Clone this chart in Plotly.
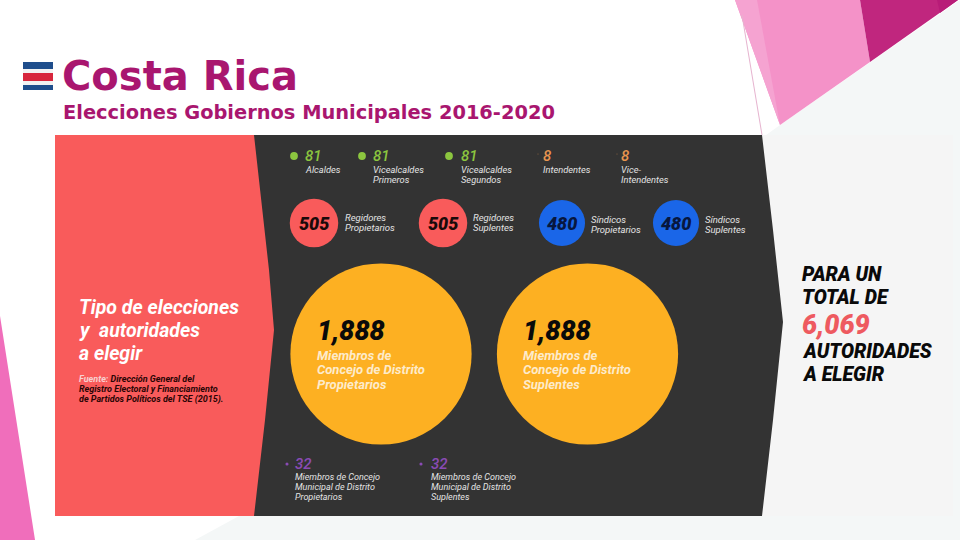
import plotly.graph_objects as go

top_values = [81, 81, 81, 8, 8]
top_labels = [["Alcaldes"], ["Vicealcaldes", "Primeros"], ["Vicealcaldes", "Segundos"],
              ["Intendentes"], ["Vice-", "Intendentes"]]
mid_values = [505, 505, 480, 480]
mid_labels = [["Regidores", "Propietarios"], ["Regidores", "Suplentes"],
              ["Síndicos", "Propietarios"], ["Síndicos", "Suplentes"]]
big_values = [1888, 1888]
big_labels = [["Miembros de", "Concejo de Distrito", "Propietarios"],
              ["Miembros de", "Concejo de Distrito", "Suplentes"]]
low_values = [32, 32]
low_labels = [["Miembros de Concejo", "Municipal de Distrito", "Propietarios"],
              ["Miembros de Concejo", "Municipal de Distrito", "Suplentes"]]
heading_lines = ["Tipo de elecciones", "y  autoridades", "a elegir"]
source_lines = ['<span style="color:#F7D0D0">Fuente:</span> Dirección General del',
                "Registro Electoral y Financiamiento",
                "de Partidos Políticos del TSE (2015)."]
total_lines = ["PARA UN", "TOTAL DE", "6,069", "AUTORIDADES", "A ELEGIR"]

# layout of the page, in pixels
SCALE = 0.096  # bubble diameter per authority
top_x = [294, 362, 449, 538, 617]
top_y = [156, 156, 156, 154, 154]
top_colors = ["#8CC63F", "#8CC63F", "#8CC63F", "#E8954F", "#E8954F"]
top_text_x = [303, 371, 459, 541, 619]
mid_x = [314, 443, 562, 676]
mid_colors = ["#F95B5B", "#F95B5B", "#1A66E8", "#1A66E8"]
mid_num_colors = ["#1A0A0A", "#1A0A0A", "#07173F", "#07173F"]
mid_text_x = [343, 471, 589, 703]
mid_text_y = [217, 217, 219, 219]
big_x = [381, 587.5]
big_text_x = [315, 521]
low_x = [287, 421]
low_text_x = [293, 429]
total_y = [274, 297, 325, 351, 374]
total_size = [19.5, 19.5, 27, 19.5, 19.5]
total_colors = ["#0A0A0A", "#0A0A0A", "#EE5A60", "#0A0A0A", "#0A0A0A"]

ITALIC = "Roboto"


def poly(points, color):
    path = "M " + " L ".join(f"{x},{y}" for x, y in points) + " Z"
    return dict(type="path", path=path, fillcolor=color, line_width=0, layer="below")


def label(x, y, text, size, color, anchor="left", weight="normal", family=ITALIC, style="italic"):
    return dict(x=x, y=y, text=text, showarrow=False, xanchor=anchor, yanchor="middle",
                align=anchor, font=dict(family=family, size=size, color=color, weight=weight, style=style))


def lines(x, y0, step, texts, size, color, weight="normal"):
    # plotly's <br> spacing is too loose here, so every line gets its own annotation
    return [label(x, y0 + i * step, t, size, color, weight=weight) for i, t in enumerate(texts)]


shapes = [
    # slide background
    poly([(780, 125), (960, 0), (960, 540), (195, 540), (250, 510)], "#F4F7F7"),
    poly([(735, 0), (860, 0), (870, 62), (780, 125)], "#F492C8"),
    poly([(735, 0), (757, 0), (780, 125)], "#F5A3D1"),
    poly([(860, 0), (958, 0), (870, 62)], "#C0267E"),
    poly([(937, 0), (958, 0), (940, 13)], "#B81C78"),
    poly([(0, 316), (35, 540), (0, 540)], "#F06EBB"),
    dict(type="line", x0=742, y0=15, x1=762, y1=135, line=dict(color="#E6B3CF", width=1), layer="below"),
    # infographic panels
    poly([(55, 135), (953, 135), (953, 516), (55, 516)], "#F5F5F5"),
    poly([(55, 135), (285, 135), (285, 516), (55, 516)], "#F95B5B"),
    poly([(254, 135), (269, 270), (274, 330), (265, 420), (254, 516),
          (762, 516), (773, 420), (783, 322), (773, 230), (762, 135)], "#333333"),
    # flag
    dict(type="rect", x0=23, x1=53, y0=62, y1=69, fillcolor="#1F4E8C", line_width=0),
    dict(type="rect", x0=23, x1=53, y0=69, y1=73, fillcolor="#F2F2F2", line_width=0),
    dict(type="rect", x0=23, x1=53, y0=73, y1=81, fillcolor="#D7263D", line_width=0),
    dict(type="rect", x0=23, x1=53, y0=81, y1=85, fillcolor="#F2F2F2", line_width=0),
    dict(type="rect", x0=23, x1=53, y0=85, y1=90, fillcolor="#1F4E8C", line_width=0),
]

annotations = [
    label(60, 76, "Costa Rica", 40, "#A9166F", weight="bold", family="DejaVu Sans", style="normal"),
    label(61, 112, "Elecciones Gobiernos Municipales 2016-2020", 19.4, "#A9166F",
          weight="bold", family="DejaVu Sans", style="normal"),
]
annotations += lines(77, 307, 23, heading_lines, 19.5, "#FFFFFF", weight="bold")
annotations += lines(77, 379, 10.3, source_lines, 9, "#2A0505", weight="bold")

for v, c, tx, lab in zip(top_values, top_colors, top_text_x, top_labels):
    annotations.append(label(tx, 156, str(v), 15, c, weight=500))
    annotations += lines(tx, 169, 10.5, lab, 9.3, "#E4E4E4")
for v, x, nc, tx, ty, lab in zip(mid_values, mid_x, mid_num_colors, mid_text_x, mid_text_y, mid_labels):
    annotations.append(label(x, 223, str(v), 18, nc, anchor="center", weight=900))
    annotations += lines(tx, ty, 10, lab, 9.5, "#E4E4E4")
for v, tx, lab in zip(big_values, big_text_x, big_labels):
    annotations.append(label(tx, 331, f"{v:,}", 27, "#0A0A0A", weight=900))
    annotations += lines(tx, 355, 14.7, lab, 13, "#FDEBCB", weight="bold")
for v, tx, lab in zip(low_values, low_text_x, low_labels):
    annotations.append(label(tx, 464, str(v), 15, "#8A4BB5", weight=500))
    annotations += lines(tx, 476.5, 10, lab, 9, "#E4E4E4")
for line, y, s, c in zip(total_lines, total_y, total_size, total_colors):
    annotations.append(label(800, y, line, s, c, weight=900))

fig = go.Figure()
fig.add_trace(go.Scatter(x=top_x, y=top_y, mode="markers", hoverinfo="skip",
                         marker=dict(size=[v * SCALE for v in top_values], color=top_colors,
                                     opacity=1, line_width=0)))
fig.add_trace(go.Scatter(x=mid_x, y=[223] * len(mid_x), mode="markers", hoverinfo="skip",
                         marker=dict(size=[v * SCALE for v in mid_values], color=mid_colors,
                                     opacity=1, line_width=0)))
fig.add_trace(go.Scatter(x=big_x, y=[354] * len(big_x), mode="markers", hoverinfo="skip",
                         marker=dict(size=[v * SCALE for v in big_values], color="#FDB022",
                                     opacity=1, line_width=0)))
fig.add_trace(go.Scatter(x=low_x, y=[464] * len(low_x), mode="markers", hoverinfo="skip",
                         marker=dict(size=[v * SCALE for v in low_values], color="#8A4BB5",
                                     opacity=1, line_width=0)))

fig.update_layout(
    width=960, height=540,
    margin=dict(l=0, r=0, t=0, b=0),
    paper_bgcolor="white", plot_bgcolor="white",
    showlegend=False,
    xaxis=dict(range=[0, 960], visible=False, fixedrange=True),
    yaxis=dict(range=[540, 0], visible=False, fixedrange=True),
    shapes=shapes,
    annotations=annotations,
)
fig.write_html("out.html", post_script="document.body.style.margin='0';",
               config=dict(displayModeBar=False))
